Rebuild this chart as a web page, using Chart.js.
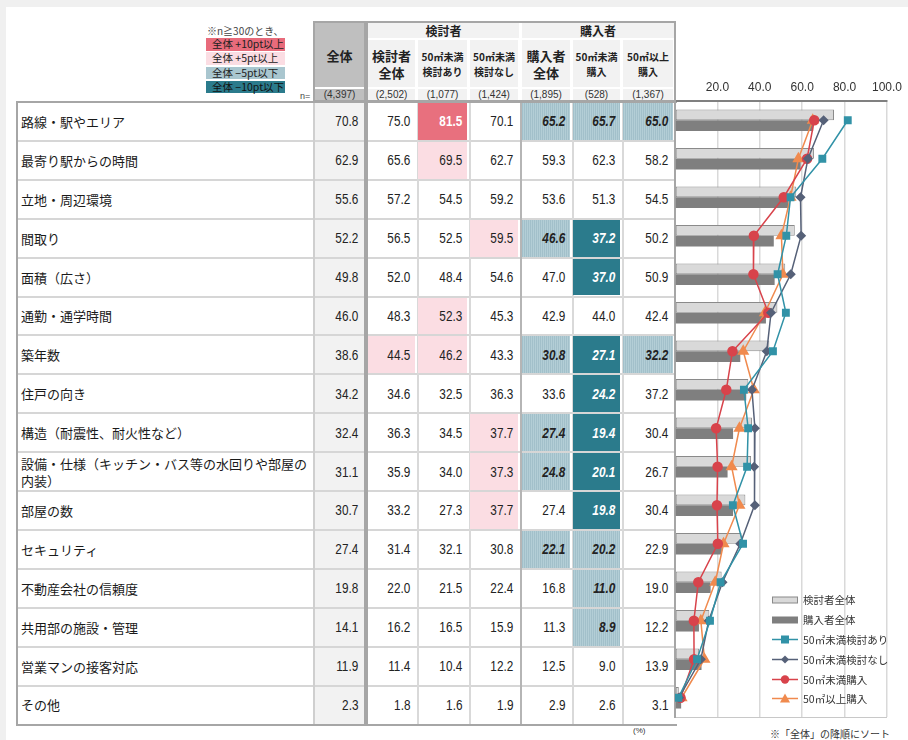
<!DOCTYPE html>
<html>
<head>
<meta charset="utf-8">
<script src="https://cdn.jsdelivr.net/npm/chart.js@4/dist/chart.umd.min.js"></script>
<style>
body { margin:0; background:#f0f0f0; width:908px; height:740px; overflow:hidden; position:relative; font-family:"Noto Sans CJK JP", sans-serif; }
.abs { position:absolute; box-sizing:border-box; }
.num { font-family:"Liberation Sans",sans-serif; font-size:14px; color:#222; display:flex; align-items:center; justify-content:flex-end; padding-right:5px; }
.num span { display:inline-block; transform:scaleX(0.84); transform-origin:right center; }
.lbl { font-size:13px; color:#1a1a1a; display:flex; align-items:center; padding-left:3px; line-height:17px; }
.hd { display:flex; align-items:center; justify-content:center; text-align:center; color:#222; font-weight:bold; }
.nn { font-family:"Liberation Sans",sans-serif; font-size:10px; color:#333; display:flex; align-items:center; justify-content:center; }
.key { font-size:10.5px; color:#222; padding-left:6px; line-height:12px; }
#legend div { height:19.8px; display:flex; align-items:center; font-size:10.5px; color:#333; }
#legend svg { margin-right:5px; }
</style>
</head>
<body>
<div class="abs" style="left:6px;top:7px;width:902px;height:733px;background:#fff"></div>
<div id="table"></div>
<div class="abs" style="left:665px;top:75px;width:243px;height:649px"><canvas id="chart"></canvas></div>
<div id="legend" class="abs" style="left:772px;top:590px"></div>
<script>
// 重視した項目（%）
var categories = ["路線・駅やエリア", "最寄り駅からの時間", "立地・周辺環境", "間取り", "面積（広さ）", "通勤・通学時間", "築年数", "住戸の向き", "構造（耐震性、耐火性など）", "設備・仕様（キッチン・バス等の水回りや部屋の内装）", "部屋の数", "セキュリティ", "不動産会社の信頼度", "共用部の施設・管理", "営業マンの接客対応", "その他"];
var total         = [70.8, 62.9, 55.6, 52.2, 49.8, 46.0, 38.6, 34.2, 32.4, 31.1, 30.7, 27.4, 19.8, 14.1, 11.9, 2.3];
var considerAll   = [75.0, 65.6, 57.2, 56.5, 52.0, 48.3, 44.5, 34.6, 36.3, 35.9, 33.2, 31.4, 22.0, 16.2, 11.4, 1.8];
var considerUnder = [81.5, 69.5, 54.5, 52.5, 48.4, 52.3, 46.2, 32.5, 34.5, 34.0, 27.3, 32.1, 21.5, 16.5, 10.4, 1.6];
var considerNot   = [70.1, 62.7, 59.2, 59.5, 54.6, 45.3, 43.3, 36.3, 37.7, 37.3, 37.7, 30.8, 22.4, 15.9, 12.2, 1.9];
var buyerAll      = [65.2, 59.3, 53.6, 46.6, 47.0, 42.9, 30.8, 33.6, 27.4, 24.8, 27.4, 22.1, 16.8, 11.3, 12.5, 2.9];
var buyerUnder    = [65.7, 62.3, 51.3, 37.2, 37.0, 44.0, 27.1, 24.2, 19.4, 20.1, 19.8, 20.2, 11.0, 8.9, 9.0, 2.6];
var buyerOver     = [65.0, 58.2, 54.5, 50.2, 50.9, 42.4, 32.2, 37.2, 30.4, 26.7, 30.4, 22.9, 19.0, 12.2, 13.9, 3.1];
var sampleSizes   = ["(4,397)", "(2,502)", "(1,077)", "(1,424)", "(1,895)", "(528)", "(1,367)"];
var columnHeads   = ["全体", "検討者<br>全体", "50㎡未満<br>検討あり", "50㎡未満<br>検討なし", "購入者<br>全体", "50㎡未満<br>購入", "50㎡以上<br>購入"];
var groupHeads    = ["検討者", "購入者"];
var keyLabels     = ["全体 +10pt以上", "全体 +5pt以上", "全体 −5pt以下", "全体 −10pt以下"];

var columns = [total, considerAll, considerUnder, considerNot, buyerAll, buyerUnder, buyerOver];
var colLeft  = [315, 368, 418, 470, 522, 573, 623];
var colRight = [364, 417, 469, 520, 572, 622, 675];
var rowTop = 102, rowH = 38.9;
var keyStyles = [
    "background:#e86b7b;color:#222",
    "background:#fbdde3;color:#222",
    "background:#a9c6cf;color:#222",
    "background:#2b7b8c;color:#111"
];

var html = [];
function box(l, t, w, h, style, cls, text)
{
    html.push('<div class="abs ' + (cls || '') + '" style="left:' + l + 'px;top:' + t + 'px;width:' + w + 'px;height:' + h + 'px;' + (style || '') + '">' + (text || '') + '</div>');
}

// 凡例（色分けルール）
box(207, 25, 100, 12, "font-size:10px;color:#444;line-height:12px", "", "※n≧30のとき、");
keyLabels.map((k, i) => {
    box(206, 38 + i * 14.3, 79, 12.5, keyStyles[i], "key", k);
});

// ヘッダー
box(313, 21, 363, 81, "border:2px solid #a6a6a6;background:#fff");
box(364, 23, 4, 77, "background:#a6a6a6");
box(315, 23, 49, 64, "background:#bfbfbf;font-size:13px", "hd", columnHeads[0]);
box(315, 89, 49, 11, "background:#bfbfbf", "nn", sampleSizes[0]);
box(368, 23, 151, 15, "background:#f2f2f2;font-size:12px", "hd", groupHeads[0]);
box(522, 23, 152, 15, "background:#f2f2f2;font-size:12px", "hd", groupHeads[1]);
for (var j = 1; j < 7; j++)
{
    var w = colRight[j] - colLeft[j] - 2;
    var big = (j == 1 || j == 4);
    box(colLeft[j], 40, w, 47, "background:#f2f2f2;line-height:" + (big ? 17 : 15) + "px;font-size:" + (big ? 13 : 10) + "px", "hd", columnHeads[j]);
    box(colLeft[j], 89, w, 11, "background:#f2f2f2", "nn", sampleSizes[j]);
}
box(300, 91, 14, 10, "font-size:9px;color:#444;font-family:Liberation Sans", "", "n=");

// 表本体
box(16, 101, 661, 625, "border:2px solid #a6a6a6;border-right:none;background:#fff");
box(315, 103, 49, 621, "background:#f2f2f2");
for (var i = 1; i < 16; i++)
{
    box(18, rowTop + i * rowH - 1, 657, 2, "background:#d6d6d6");
}
box(313, 103, 2, 621, "background:#cfcfcf");
box(364, 103, 4, 621, "background:#a6a6a6");
[417, 469, 572, 622].map(x => box(x, 103, 2, 621, "background:#d9d9d9"));
box(520, 103, 2, 621, "background:#b5b5b5");

categories.map((c, i) => {
    var t = rowTop + i * rowH;
    box(18, t + 1, 294, rowH - 2, "", "lbl", c);
    columns.map((col, j) => {
        var v = col[i];
        var diff = Math.round((v - total[i]) * 10) / 10;
        var style = "";
        if (j > 0 && diff >= 10) style = "background:#e8707e;color:#fff;font-weight:bold";
        else if (j > 0 && diff >= 5) style = "background:#fbdde3";
        else if (j > 0 && diff <= -10) style = "background:#2b7b8c;color:#fff;font-weight:bold;font-style:italic";
        else if (j > 0 && diff <= -5) style = "background:repeating-linear-gradient(90deg,#a2c0ca 0 1px,#b3ced6 1px 2px);font-weight:bold;font-style:italic";
        var w = colRight[j] - colLeft[j] - (j == 0 ? 1 : 2);
        box(colLeft[j], t + 1, w, rowH - 2, style, "num", "<span>" + v.toFixed(1) + "</span>");
    });
});

box(633, 726, 20, 12, "font-size:8px;color:#333;font-family:Liberation Sans", "", "(%)");
box(770, 726, 130, 14, "font-size:10px;color:#333", "", "※「全体」の降順にソート");
document.getElementById("table").innerHTML = html.join("");

// グラフ
var chart = new Chart(document.getElementById("chart"), {
    type: "bar",
    data: {
        labels: categories,
        datasets: [
            {label: "検討者全体", data: considerAll, backgroundColor: "#d9d9d9", borderColor: "#8a8a8a", borderWidth: 1, borderSkipped: false, categoryPercentage: 0.56, barPercentage: 1, order: 2},
            {label: "購入者全体", data: buyerAll, backgroundColor: "#7f7f7f", categoryPercentage: 0.56, barPercentage: 1, order: 2},
            {type: "line", label: "50㎡未満検討あり", data: considerUnder, borderColor: "#3192a7", backgroundColor: "#3192a7", pointStyle: "rect", pointRadius: 4.5, borderWidth: 1.5, order: 1},
            {type: "line", label: "50㎡未満検討なし", data: considerNot, borderColor: "#566178", backgroundColor: "#566178", pointStyle: "rectRot", pointRadius: 4, borderWidth: 1.5, order: 1},
            {type: "line", label: "50㎡未満購入", data: buyerUnder, borderColor: "#d8434b", backgroundColor: "#d8434b", pointStyle: "circle", pointRadius: 4.5, borderWidth: 1.5, order: 1},
            {type: "line", label: "50㎡以上購入", data: buyerOver, borderColor: "#f08a4e", backgroundColor: "#f08a4e", pointStyle: "triangle", pointRadius: 5.5, borderWidth: 1.5, order: 1}
        ]
    },
    options: {
        indexAxis: "y",
        responsive: true,
        maintainAspectRatio: false,
        animation: false,
        devicePixelRatio: 1,
        layout: {padding: {left: 10, right: 17, top: 0, bottom: 0}},
        plugins: {legend: {display: false}, tooltip: {enabled: false}},
        scales: {
            x: {
                position: "top", min: 0, max: 100,
                ticks: {stepSize: 20, padding: 6, color: "#333", font: {family: "Liberation Sans", size: 12},
                    callback: v => v == 0 ? "" : v.toFixed(1)},
                grid: {color: "#d9d9d9", lineWidth: 1.5, drawTicks: false},
                border: {color: "#808080", width: 2},
                afterFit: s => { s.height = 26; }
            },
            x2: {
                position: "bottom", min: 0, max: 100,
                ticks: {display: false}, grid: {display: false, drawTicks: false},
                border: {color: "#c8c8c8", width: 1},
                afterFit: s => { s.height = 0; }
            },
            y: {
                ticks: {display: false},
                grid: {display: false, drawTicks: false},
                border: {color: "#a6a6a6", width: 2},
                afterFit: s => { s.width = 0; }
            }
        }
    }
});

// 凡例
function marker(ds)
{
    var c = ds.borderColor;
    if (ds.type != "line")
        return '<svg width="26" height="8"><rect x="0.5" y="1" width="25" height="6" fill="' + ds.backgroundColor + '" stroke="' + (ds.borderWidth ? ds.borderColor : ds.backgroundColor) + '"/></svg>';
    var m = "";
    if (ds.pointStyle == "rect") m = '<rect x="9" y="1.5" width="8" height="8" fill="' + c + '"/>';
    if (ds.pointStyle == "rectRot") m = '<polygon points="13,1.5 17,5.5 13,9.5 9,5.5" fill="' + c + '"/>';
    if (ds.pointStyle == "circle") m = '<circle cx="13" cy="5.5" r="4.2" fill="' + c + '"/>';
    if (ds.pointStyle == "triangle") m = '<polygon points="13,0.5 18,9.5 8,9.5" fill="' + c + '"/>';
    return '<svg width="26" height="11"><line x1="0" y1="5.5" x2="26" y2="5.5" stroke="' + c + '" stroke-width="1.5"/>' + m + '</svg>';
}
document.getElementById("legend").innerHTML = chart.data.datasets.map(ds =>
    '<div>' + marker(ds) + ds.label + '</div>').join("");
</script>
</body>
</html>
